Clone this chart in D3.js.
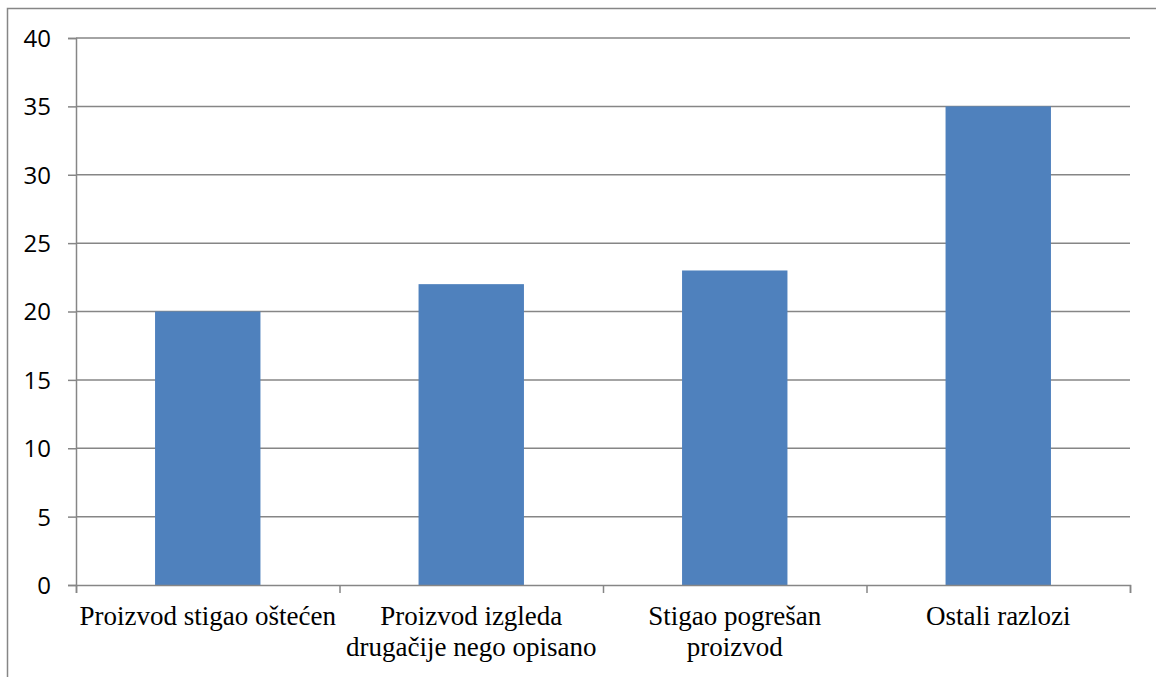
<!DOCTYPE html>
<html>
<head>
<meta charset="utf-8">
<script src="https://d3js.org/d3.v7.min.js"></script>
</head>
<body style="margin:0;background:#fff;">
<div id="vis"></div>
<script>
// frame
const FRAME_WIDTH = 1156;
const FRAME_HEIGHT = 677;
const MARGINS = {left: 76, right: 26, top: 38, bottom: 90};

// data
const categories = [
  ["Proizvod stigao oštećen"],
  ["Proizvod izgleda", "drugačije nego opisano"],
  ["Stigao pogrešan", "proizvod"],
  ["Ostali razlozi"]
];
const values = [20, 22, 23, 35];
const yTicks = [0, 5, 10, 15, 20, 25, 30, 35, 40];

const VIS_WIDTH = FRAME_WIDTH - MARGINS.left - MARGINS.right;
const VIS_HEIGHT = FRAME_HEIGHT - MARGINS.top - MARGINS.bottom - 2;

const svg = d3.select("#vis").append("svg")
  .attr("width", FRAME_WIDTH)
  .attr("height", FRAME_HEIGHT);

// outer chart border (right/bottom fall outside the picture)
svg.append("rect")
  .attr("x", 7.5).attr("y", 8.5)
  .attr("width", FRAME_WIDTH).attr("height", FRAME_HEIGHT)
  .attr("fill", "none").attr("stroke", "#868686").attr("stroke-width", 1.5);

const X_SCALE = d3.scaleBand()
  .domain(d3.range(categories.length))
  .range([0, VIS_WIDTH])
  .paddingInner(0.6).paddingOuter(0.3);

const X_OUTER = d3.scaleBand()
  .domain(d3.range(categories.length))
  .range([0, VIS_WIDTH]);

const Y_SCALE = d3.scaleLinear()
  .domain([0, 40])
  .range([VIS_HEIGHT, 0]);

const g = svg.append("g")
  .attr("transform", "translate(" + MARGINS.left + "," + MARGINS.top + ")");

// gridlines
g.selectAll(".grid")
  .data(yTicks.filter(d => d > 0))
  .enter().append("line")
    .attr("x1", 0).attr("x2", VIS_WIDTH)
    .attr("y1", d => Y_SCALE(d)).attr("y2", d => Y_SCALE(d))
    .attr("stroke", "#868686").attr("stroke-width", 1.5);

// bars
g.selectAll(".bar")
  .data(values)
  .enter().append("rect")
    .attr("x", (d, i) => X_SCALE(i))
    .attr("width", X_SCALE.bandwidth())
    .attr("y", d => Y_SCALE(d))
    .attr("height", d => VIS_HEIGHT - Y_SCALE(d))
    .attr("fill", "#4F81BD");

// y axis
const yAxis = g.append("g")
  .call(d3.axisLeft(Y_SCALE).tickValues(yTicks).tickSize(8).tickPadding(17));
yAxis.select(".domain").attr("stroke", "#868686").attr("stroke-width", 1.5);
yAxis.selectAll(".tick line").attr("stroke", "#868686").attr("stroke-width", 1.5);
yAxis.selectAll(".tick text")
  .style("font-family", "'Open Sans', 'Liberation Sans', sans-serif")
  .style("font-size", "24px")
  .attr("fill", "#000")
  .attr("dy", "0.35em");

// x axis
const xAxis = g.append("g")
  .attr("transform", "translate(0," + VIS_HEIGHT + ")")
  .call(d3.axisBottom(d3.scaleLinear().domain([0, 4]).range([0, VIS_WIDTH]))
    .tickValues([0, 1, 2, 3, 4]).tickSize(8).tickFormat(""));
xAxis.select(".domain").attr("stroke", "#868686").attr("stroke-width", 1.5);
xAxis.selectAll(".tick line").attr("stroke", "#868686").attr("stroke-width", 1.5);

// category labels
const labels = g.selectAll(".xlab")
  .data(categories)
  .enter().append("text")
    .style("font-family", "'Liberation Serif', 'Times New Roman', serif")
    .style("font-size", "27px")
    .attr("fill", "#000")
    .attr("text-anchor", "middle")
    .attr("x", (d, i) => X_OUTER(i) + X_OUTER.bandwidth() / 2)
    .attr("y", VIS_HEIGHT + 40);
labels.selectAll("tspan")
  .data(d => d)
  .enter().append("tspan")
    .attr("x", function () { return this.parentNode.getAttribute("x"); })
    .attr("dy", (d, i) => i === 0 ? 0 : 31)
    .text(d => d);
</script>
</body>
</html>
